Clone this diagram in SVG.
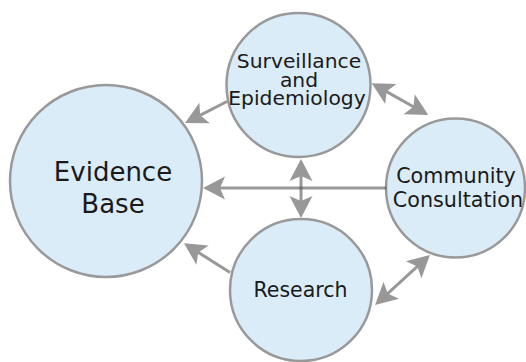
<svg xmlns="http://www.w3.org/2000/svg" width="526" height="362" viewBox="0 0 526 362">
  <style>
    .node circle { fill: #daecf8; stroke: #999999; stroke-width: 2.5; }
    .node text { font-family: "DejaVu Sans", "Liberation Sans", sans-serif; fill: #1a1a1a; text-anchor: middle; }
    .conn { opacity: 0.6; }
    .conn path { fill: none; stroke: #555555; stroke-width: 3; }
  </style>
  <defs>
    <!-- barbed arrowhead; tip sits 14 units beyond the path end -->
    <marker id="arrow" markerUnits="userSpaceOnUse" markerWidth="40" markerHeight="40"
            viewBox="-20 -20 40 40" refX="0" refY="0" orient="auto-start-reverse" overflow="visible">
      <path d="M14,0 L-8,-11.5 L-3,0 L-8,11.5 Z" fill="#555555"/>
    </marker>
  </defs>

  <g id="node-evidence" class="node">
    <circle cx="106" cy="181" r="96"/>
    <text x="113" y="181" font-size="26">Evidence</text>
    <text x="113" y="213" font-size="26">Base</text>
  </g>

  <g id="node-surveillance" class="node">
    <circle cx="298.5" cy="85" r="72"/>
    <text x="299" y="67.5" font-size="20.3">Surveillance</text>
    <text x="299" y="86.5" font-size="20.3">and</text>
    <text x="297" y="105" font-size="20.3">Epidemiology</text>
  </g>

  <g id="node-community" class="node">
    <circle cx="455.5" cy="188" r="69.5"/>
    <text x="456" y="182.5" font-size="20.7">Community</text>
    <text x="458" y="206.5" font-size="20.7">Consultation</text>
  </g>

  <g id="node-research" class="node">
    <circle cx="301" cy="290" r="71"/>
    <text x="300.5" y="297" font-size="20.5">Research</text>
  </g>

  <g id="connectors">
    <g class="conn"><path d="M386.5,188 L217,188" marker-end="url(#arrow)"/></g>
    <g class="conn"><path d="M301,173 L301,204" marker-start="url(#arrow)" marker-end="url(#arrow)"/></g>
    <g class="conn"><path d="M227,101.5 L197.5,116.6" marker-end="url(#arrow)"/></g>
    <g class="conn"><path d="M230,272.5 L195.8,250.8" marker-end="url(#arrow)"/></g>
    <g class="conn"><path d="M383.9,90.1 L416.1,108.2" marker-start="url(#arrow)" marker-end="url(#arrow)"/></g>
    <g class="conn"><path d="M385.4,295.6 L419.6,264.4" marker-start="url(#arrow)" marker-end="url(#arrow)"/></g>
  </g>
</svg>
